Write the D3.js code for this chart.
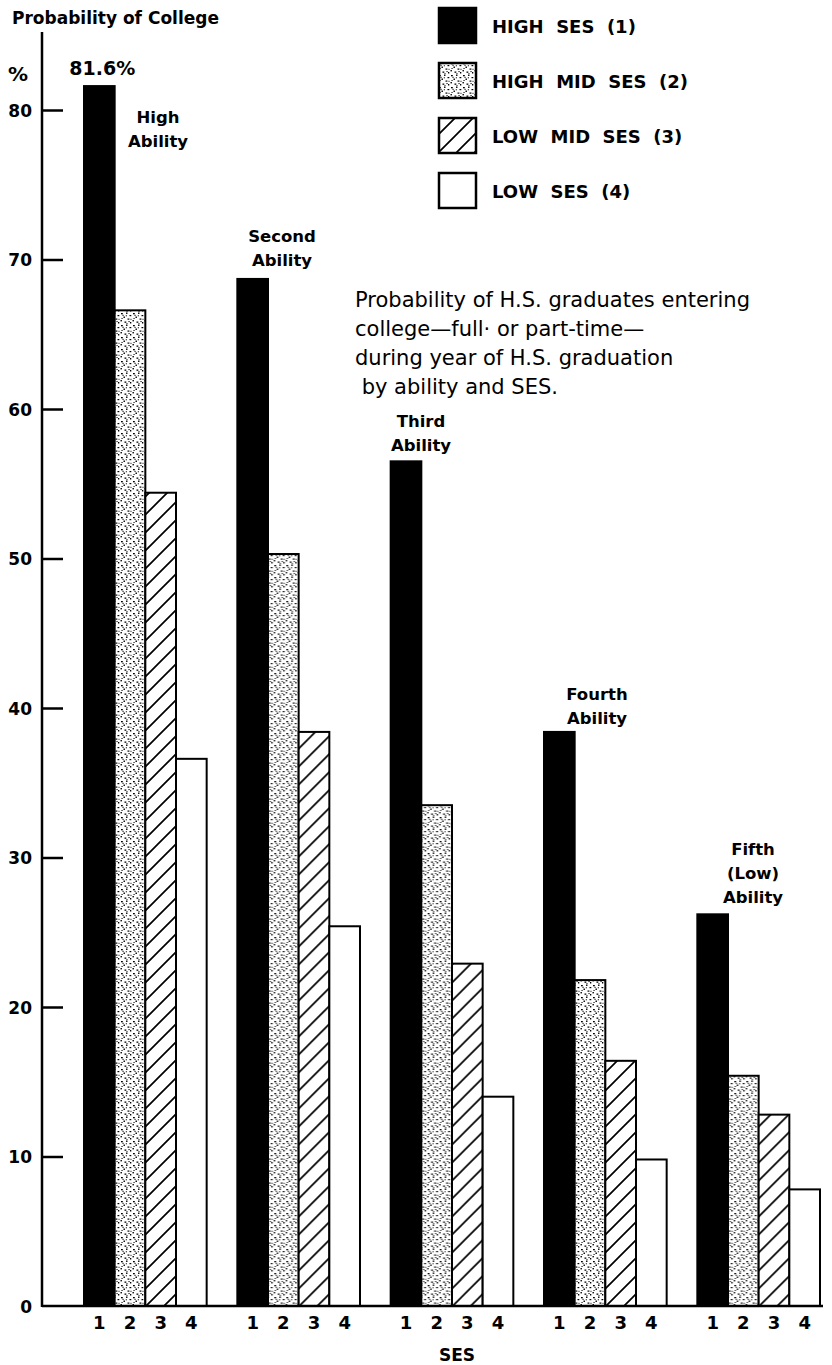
<!DOCTYPE html>
<html>
<head>
<meta charset="utf-8">
<script src="https://cdn.jsdelivr.net/npm/d3@7"></script>
<style>
  html, body { margin: 0; padding: 0; background: #fff; }
  svg { display: block; }
</style>
</head>
<body>
<script>
// ---------- DATA ----------
const abilityGroups = ["High Ability", "Second Ability", "Third Ability", "Fourth Ability", "Fifth (Low) Ability"];
const groupLabelLines = [["High", "Ability"], ["Second", "Ability"], ["Third", "Ability"], ["Fourth", "Ability"], ["Fifth", "(Low)", "Ability"]];
const sesLevels = ["1", "2", "3", "4"];
const sesNames = ["HIGH  SES  (1)", "HIGH  MID  SES  (2)", "LOW  MID  SES  (3)", "LOW  SES  (4)"];
const highSES    = [81.6, 68.7, 56.5, 38.4, 26.2];
const highMidSES = [66.6, 50.3, 33.5, 21.8, 15.4];
const lowMidSES  = [54.4, 38.4, 22.9, 16.4, 12.8];
const lowSES     = [36.6, 25.4, 14.0, 9.8, 7.8];
const yTicks = [0, 10, 20, 30, 40, 50, 60, 70, 80];
const topValueLabel = "81.6%";
const yAxisTitle = "Probability of College";
const xAxisTitle = "SES";
const noteLines = ["Probability of H.S. graduates entering", "college\u2014full\u00b7 or part-time\u2014", "during year of H.S. graduation", " by ability and SES."];

const seriesValues = [highSES, highMidSES, lowMidSES, lowSES];

// ---------- LAYOUT ----------
const W = 832, H = 1365;
const svg = d3.select("body").append("svg").attr("width", W).attr("height", H);

const defs = svg.append("defs");
// stipple pattern (fixed dot layout)
const stip = defs.append("pattern").attr("id", "stipple").attr("patternUnits", "userSpaceOnUse")
  .attr("width", 12).attr("height", 12);
stip.append("rect").attr("width", 12).attr("height", 12).attr("fill", "#fff");
const dots = [[1,1,1.8,1.3],[6,0.5,1.5,1.4],[9.5,3,1.8,1.2],[3.5,4.5,1.4,1.5],[7.5,6.5,1.9,1.2],[0.5,8,1.4,1.4],[4.5,9.5,1.8,1.3],[10,10,1.3,1.5],[2.5,2.8,1.1,1.1],[8.5,9,1.1,1.1],[5.8,3.2,1.0,1.1],[1.5,6,1.1,1.0],[10.5,6.8,1.0,1.0],[6.5,11,1.0,0.9]];
stip.selectAll("rect.d").data(dots).enter().append("rect").attr("class","d")
  .attr("x", d => d[0]).attr("y", d => d[1]).attr("width", d => d[2]).attr("height", d => d[3]).attr("fill", "#000");
// hatch pattern
const hatch = defs.append("pattern").attr("id", "hatch").attr("patternUnits", "userSpaceOnUse")
  .attr("width", 18).attr("height", 18);
hatch.append("rect").attr("width", 18).attr("height", 18).attr("fill", "#fff");
hatch.append("path").attr("d", "M-4,22 L22,-4 M-8,8 L8,-8 M10,26 L26,10")
  .attr("stroke", "#000").attr("stroke-width", 1.7);

const fills = ["#000", "url(#stipple)", "url(#hatch)", "#fff"];

const axisX = 42;
const y = d3.scaleLinear().domain([0, 80]).range([1306, 110]);
const x0 = d3.scaleBand().domain(abilityGroups).range([84, 820]).paddingInner(0.2).paddingOuter(0);
const x1 = d3.scaleBand().domain(sesLevels).range([0, x0.bandwidth()]).padding(0);

const font = "'DejaVu Sans', sans-serif";

// ---------- BARS ----------
const groups = svg.append("g").selectAll("g").data(abilityGroups).enter().append("g")
  .attr("transform", d => `translate(${x0(d)},0)`);

groups.selectAll("rect").data((g, gi) => sesLevels.map((s, si) => ({ s, si, v: seriesValues[si][gi] })))
  .enter().append("rect")
  .attr("x", d => x1(d.s))
  .attr("y", d => y(d.v))
  .attr("width", x1.bandwidth())
  .attr("height", d => y(0) - y(d.v))
  .attr("fill", d => fills[d.si])
  .attr("stroke", "#000")
  .attr("stroke-width", 2);

// SES tick labels under bars
groups.selectAll("text").data(sesLevels).enter().append("text")
  .attr("x", d => x1(d) + x1.bandwidth() / 2)
  .attr("y", 1329)
  .attr("text-anchor", "middle")
  .attr("font-family", font)
  .attr("font-size", 18)
  .attr("font-weight", "bold")
  .text(d => d);

// ---------- AXES ----------
const yAxis = d3.axisRight(y).tickValues(yTicks).tickSize(21).tickFormat("");
const ya = svg.append("g").attr("transform", `translate(${axisX},0)`).call(yAxis);
ya.select(".domain").remove();
ya.selectAll(".tick line").attr("stroke", "#000").attr("stroke-width", 2.5);
ya.selectAll(".tick").filter(d => d === 0).select("line").remove();
ya.selectAll(".tick").append("text")
  .attr("x", -10).attr("dy", "0.36em")
  .attr("text-anchor", "end")
  .attr("fill", "#000")
  .attr("font-family", font)
  .attr("font-weight", "bold")
  .attr("font-size", 17)
  .text(d => d);

svg.append("line").attr("x1", axisX).attr("x2", axisX).attr("y1", 32).attr("y2", y(0) + 1)
  .attr("stroke", "#000").attr("stroke-width", 2.5);
svg.append("line").attr("x1", axisX).attr("x2", 823).attr("y1", y(0)).attr("y2", y(0))
  .attr("stroke", "#000").attr("stroke-width", 2.5);

// ---------- TEXTS ----------
svg.append("text").attr("x", 12).attr("y", 24)
  .attr("font-family", font).attr("font-weight", "bold").attr("font-size", 17)
  .text(yAxisTitle);
svg.append("text").attr("x", 8).attr("y", 81)
  .attr("font-family", font).attr("font-weight", "bold").attr("font-size", 20)
  .text("%");
svg.append("text").attr("x", x0(abilityGroups[0]) + x1("1") + x1.bandwidth() / 2 + 3).attr("y", y(highSES[0]) - 11)
  .attr("text-anchor", "middle")
  .attr("font-family", font).attr("font-size", 19).attr("font-weight", "bold")
  .text(topValueLabel);

svg.append("text").attr("x", 457).attr("y", 1361).attr("text-anchor", "middle")
  .attr("font-family", font).attr("font-weight", "bold").attr("font-size", 17)
  .text(xAxisTitle);

// group labels (annotation positions)
const groupLabelPos = [[158, 123], [282, 242], [421, 427], [597, 700], [753, 855]];
groupLabelLines.forEach((lines, i) => {
  const t = svg.append("text").attr("text-anchor", "middle")
    .attr("font-family", font).attr("font-weight", "bold").attr("font-size", 16.5);
  lines.forEach((ln, k) => {
    t.append("tspan").attr("x", groupLabelPos[i][0]).attr("y", groupLabelPos[i][1] + k * 24).text(ln);
  });
});

// note
const note = svg.append("text").attr("font-family", font).attr("font-size", 21)
  .attr("xml:space", "preserve");
noteLines.forEach((ln, k) => {
  note.append("tspan").attr("x", 355).attr("y", 307 + k * 29).text(ln);
});

// legend
const legend = svg.append("g").selectAll("g").data(sesNames).enter().append("g")
  .attr("transform", (d, i) => `translate(438,${7 + i * 55})`);
legend.append("rect").attr("x", 1).attr("y", 1).attr("width", 37).attr("height", 35)
  .attr("fill", (d, i) => fills[i]).attr("stroke", "#000").attr("stroke-width", 2.5);
legend.append("text").attr("x", 54).attr("y", 26)
  .attr("font-family", font).attr("font-weight", "bold").attr("font-size", 18)
  .attr("xml:space", "preserve")
  .text(d => d);
</script>
</body>
</html>
